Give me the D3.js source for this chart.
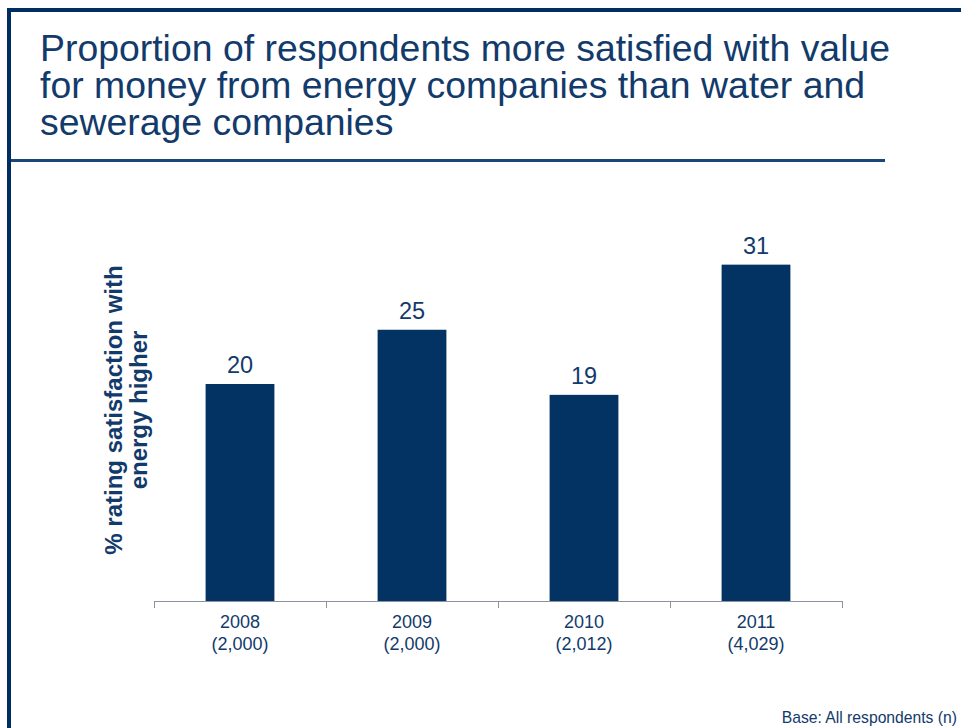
<!DOCTYPE html>
<html>
<head>
<meta charset="utf-8">
<script src="https://cdn.jsdelivr.net/npm/d3@7"></script>
<style>
  html, body { margin: 0; padding: 0; background: #fff; }
  svg { display: block; font-family: "Liberation Sans", Arial, sans-serif; }
</style>
</head>
<body>
<svg id="chart" width="961" height="728"></svg>
<script>
// Survey years, sample sizes and the share rating energy higher (%)
const years = ["2008", "2009", "2010", "2011"];
const sampleSizes = ["(2,000)", "(2,000)", "(2,012)", "(4,029)"];
const values = [20, 25, 19, 31];
const titleLines = [
  "Proportion of respondents more satisfied with value",
  "for money from energy companies than water and",
  "sewerage companies"
];
const yLabelLines = ["% rating satisfaction with", "energy higher"];

const navy = "#002d62";
const textBlue = "#123a6b";
const barColor = "#033363";

const svg = d3.select("#chart");

// Slide frame: top and left borders
svg.append("rect").attr("x", 7).attr("y", 8).attr("width", 954).attr("height", 4).attr("fill", navy);
svg.append("rect").attr("x", 7).attr("y", 8).attr("width", 4).attr("height", 720).attr("fill", navy);

// Title
svg.append("text")
  .attr("x", 40).attr("y", 61)
  .attr("fill", textBlue)
  .attr("font-size", 37.4)
  .selectAll("tspan").data(titleLines).join("tspan")
  .attr("x", 40)
  .attr("dy", (d, i) => i === 0 ? 0 : 37.2)
  .text(d => d);

// Title rule
svg.append("rect").attr("x", 11).attr("y", 159).attr("width", 874).attr("height", 3).attr("fill", "#1c4679");

// Chart scales
const x = d3.scaleBand().domain(years).range([154, 842]).paddingInner(0.6).paddingOuter(0.3);
const y = d3.scaleLinear().domain([0, 35]).range([601, 601 - 35 * 10.85]);

// Bars
svg.append("g").selectAll("rect").data(values).join("rect")
  .attr("x", (d, i) => x(years[i]))
  .attr("y", d => y(d))
  .attr("width", x.bandwidth())
  .attr("height", d => y(0) - y(d))
  .attr("fill", barColor);

// Value labels
svg.append("g").selectAll("text").data(values).join("text")
  .attr("x", (d, i) => x(years[i]) + x.bandwidth() / 2)
  .attr("y", d => y(d) - 11)
  .attr("text-anchor", "middle")
  .attr("font-size", 23.5)
  .attr("fill", textBlue)
  .text(d => d);

// Category axis with tick marks at band boundaries
const step = (842 - 154) / years.length;
const axisG = svg.append("g");
axisG.append("line").attr("x1", 154).attr("x2", 842).attr("y1", 601.5).attr("y2", 601.5)
  .attr("stroke", "#8c92a0").attr("stroke-width", 1);
axisG.selectAll("line.tick").data(d3.range(years.length + 1)).join("line")
  .attr("class", "tick")
  .attr("x1", i => 154.5 + i * step).attr("x2", i => 154.5 + i * step)
  .attr("y1", 601).attr("y2", 608)
  .attr("stroke", "#8c92a0").attr("stroke-width", 1);

const catLabels = axisG.selectAll("text.cat").data(years).join("text")
  .attr("class", "cat")
  .attr("text-anchor", "middle")
  .attr("font-size", 18)
  .attr("fill", textBlue);
catLabels.append("tspan")
  .attr("x", d => x(d) + x.bandwidth() / 2).attr("y", 628)
  .text(d => d);
catLabels.append("tspan")
  .attr("x", d => x(d) + x.bandwidth() / 2).attr("y", 649.5)
  .text((d, i) => sampleSizes[i]);

// Y axis title (rotated, two lines)
svg.append("text")
  .attr("transform", "translate(122,410) rotate(-90)")
  .attr("text-anchor", "middle")
  .attr("font-size", 24)
  .attr("font-weight", "bold")
  .attr("fill", textBlue)
  .selectAll("tspan").data(yLabelLines).join("tspan")
  .attr("x", 0)
  .attr("dy", (d, i) => i === 0 ? 0 : 25)
  .text(d => d);

// Footnote
svg.append("text")
  .attr("x", 957).attr("y", 723)
  .attr("text-anchor", "end")
  .attr("font-size", 15.7)
  .attr("fill", textBlue)
  .text("Base: All respondents (n)");
</script>
</body>
</html>
